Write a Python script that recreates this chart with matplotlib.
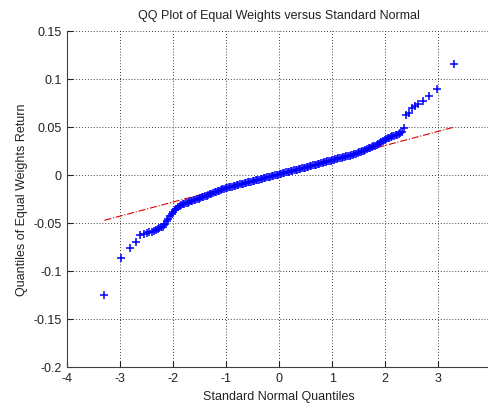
import matplotlib
matplotlib.use("Agg")
import matplotlib.pyplot as plt

plt.rcParams['font.family'] = ['Liberation Sans', 'DejaVu Sans']
plt.rcParams['axes.unicode_minus'] = False

# standard normal quantiles (x) against sorted equal-weights returns (y)
normal_q = [
    -3.30, -2.98, -2.82, -2.71, -2.62, -2.56, -2.50, -2.45, -2.40, -2.36,
    -2.32, -2.29, -2.26, -2.23, -2.20,
    -2.18, -2.15, -2.12, -2.09, -2.06, -2.03, -2.00, -1.97, -1.94, -1.91,
    -1.88, -1.85, -1.82, -1.79, -1.76, -1.73, -1.70, -1.67, -1.64, -1.61,
    -1.58, -1.55, -1.52, -1.49, -1.46, -1.43, -1.40, -1.37, -1.34, -1.31,
    -1.28, -1.25, -1.22, -1.19, -1.16, -1.13, -1.10, -1.07, -1.04, -1.01,
    -0.98, -0.95, -0.92, -0.89, -0.86, -0.83, -0.80, -0.77, -0.74, -0.71,
    -0.68, -0.65, -0.62, -0.59, -0.56, -0.53, -0.50, -0.47, -0.44, -0.41,
    -0.38, -0.35, -0.32, -0.29, -0.26, -0.23, -0.20, -0.17, -0.14, -0.11,
    -0.08, -0.05, -0.02, 0.01, 0.04, 0.07, 0.10, 0.13, 0.16, 0.19,
    0.22, 0.25, 0.28, 0.31, 0.34, 0.37, 0.40, 0.43, 0.46, 0.49,
    0.52, 0.55, 0.58, 0.61, 0.64, 0.67, 0.70, 0.73, 0.76, 0.79,
    0.82, 0.85, 0.88, 0.91, 0.94, 0.97, 1.00, 1.03, 1.06, 1.09,
    1.12, 1.15, 1.18, 1.21, 1.24, 1.27, 1.30, 1.33, 1.36, 1.39,
    1.42, 1.45, 1.48, 1.51, 1.54, 1.57, 1.60, 1.63, 1.66, 1.69,
    1.72, 1.75, 1.78, 1.81, 1.84, 1.87, 1.90, 1.93, 1.96, 1.99,
    2.02, 2.05, 2.08, 2.11, 2.14, 2.17, 2.20, 2.23, 2.26, 2.29,
    2.32, 2.36, 2.40, 2.45, 2.50, 2.56, 2.62, 2.71, 2.82, 2.98,
    3.30,
]
return_q = [
    -0.1250, -0.0865, -0.0768, -0.0705, -0.0632, -0.0615, -0.0608, -0.0600, -0.0592, -0.0585,
    -0.0575, -0.0565, -0.0557, -0.0549, -0.0540,
    -0.0528, -0.0510, -0.0486, -0.0461, -0.0434, -0.0411, -0.0390, -0.0372, -0.0355, -0.0340,
    -0.0328, -0.0318, -0.0310, -0.0303, -0.0297, -0.0291, -0.0285, -0.0279, -0.0273, -0.0267,
    -0.0261, -0.0255, -0.0249, -0.0243, -0.0237, -0.0231, -0.0225, -0.0218, -0.0211, -0.0204,
    -0.0198, -0.0191, -0.0184, -0.0178, -0.0171, -0.0165, -0.0158, -0.0153, -0.0147, -0.0142,
    -0.0137, -0.0133, -0.0128, -0.0124, -0.0119, -0.0115, -0.0110, -0.0106, -0.0101, -0.0097,
    -0.0092, -0.0088, -0.0083, -0.0079, -0.0075, -0.0071, -0.0067, -0.0062, -0.0058, -0.0054,
    -0.0050, -0.0046, -0.0042, -0.0038, -0.0033, -0.0029, -0.0025, -0.0021, -0.0016, -0.0012,
    -0.0007, -0.0003, 0.0002, 0.0006, 0.0011, 0.0015, 0.0019, 0.0023, 0.0027, 0.0032,
    0.0036, 0.0040, 0.0045, 0.0049, 0.0053, 0.0058, 0.0062, 0.0066, 0.0070, 0.0075,
    0.0079, 0.0083, 0.0087, 0.0092, 0.0096, 0.0101, 0.0105, 0.0110, 0.0114, 0.0119,
    0.0123, 0.0128, 0.0133, 0.0138, 0.0142, 0.0147, 0.0152, 0.0156, 0.0160, 0.0165,
    0.0169, 0.0173, 0.0177, 0.0182, 0.0186, 0.0191, 0.0195, 0.0200, 0.0204, 0.0209,
    0.0214, 0.0220, 0.0226, 0.0232, 0.0238, 0.0244, 0.0250, 0.0258, 0.0265, 0.0273,
    0.0280, 0.0288, 0.0295, 0.0304, 0.0314, 0.0325, 0.0335, 0.0344, 0.0353, 0.0362,
    0.0370, 0.0378, 0.0385, 0.0392, 0.0398, 0.0404, 0.0410, 0.0417, 0.0423, 0.0430,
    0.0445, 0.0486, 0.0618, 0.0645, 0.0694, 0.0715, 0.0740, 0.0763, 0.0819, 0.0889,
    0.1155,
]

# reference line through the quartiles, stretched over the data range
line_x = [-3.30, 3.30]
line_y = [-0.0475, 0.0495]

x_ticks = [-4, -3, -2, -1, 0, 1, 2, 3]
y_ticks = [-0.2, -0.15, -0.1, -0.05, 0, 0.05, 0.1, 0.15]

fig = plt.figure(figsize=(4.89, 4.06), dpi=100)
# right edge of the axes runs slightly past the canvas
ax = fig.add_axes([67.3 / 489, 38.3 / 406, 423.7 / 489, 336 / 406])

ax.plot(line_x, line_y, '-.', color='#e00000', lw=0.8, zorder=2)
ax.plot(normal_q, return_q, '+', color='#0000ff', ms=6, mew=1.1, zorder=3)

ax.set_xlim(-4, 4)
ax.set_ylim(-0.2, 0.15)
ax.set_xticks(x_ticks)
ax.set_yticks(y_ticks)
ax.set_xticklabels([f'{v:g}' for v in x_ticks])
ax.set_yticklabels([f'{v:g}' for v in y_ticks])

ax.grid(True, color='k', ls=(0, (1, 2.5)), lw=0.6)
ax.set_axisbelow(True)

for s in ['top', 'right']:
    ax.spines[s].set_visible(False)
for s in ['left', 'bottom']:
    ax.spines[s].set_color('#404040')
    ax.spines[s].set_linewidth(0.8)

ax.tick_params(direction='in', length=4, width=0.8, color='#202020',
               labelsize=9, labelcolor='#222222', pad=4)

ax.set_title('QQ Plot of Equal Weights versus Standard Normal',
             fontsize=9, color='#222222', pad=9)
ax.set_xlabel('Standard Normal Quantiles', fontsize=9, color='#222222', labelpad=4)
ax.set_ylabel('Quantiles of Equal Weights Return', fontsize=9, color='#222222', labelpad=4)

fig.savefig('out.png', dpi=100)
